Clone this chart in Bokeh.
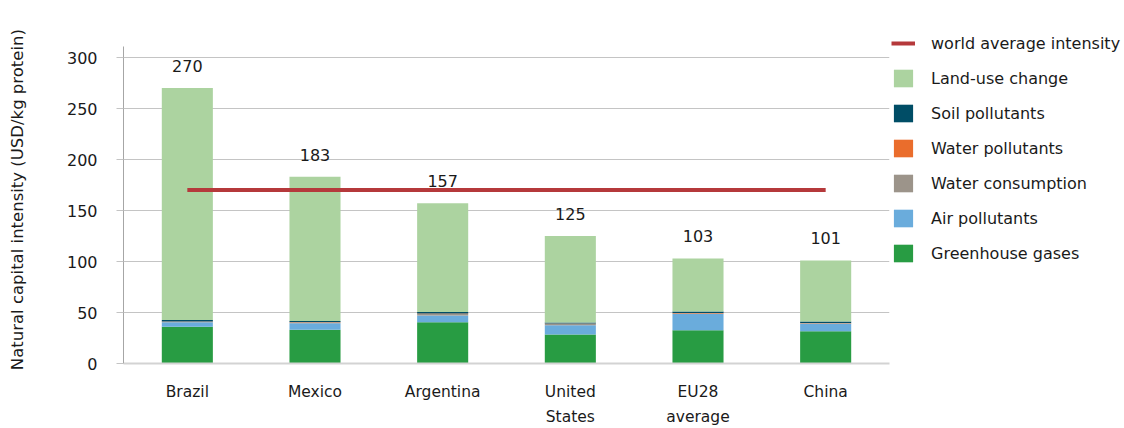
from bokeh.plotting import figure
from bokeh.models import ColumnDataSource, Legend, LegendItem, FixedTicker
from bokeh.core.properties import value
from bokeh.embed import file_html
from bokeh.resources import INLINE

categories = ["Brazil", "Mexico", "Argentina", "United\nStates", "EU28\naverage", "China"]
greenhouse_gases = [36.0, 33.0, 40.5, 28.5, 32.5, 31.5]
air_pollutants = [4.5, 6.5, 6.5, 9.0, 16.0, 7.5]
water_consumption = [0.5, 1.0, 1.5, 1.5, 0.5, 0.5]
water_pollutants = [0.2, 0.2, 0.5, 0.3, 0.5, 0.3]
soil_pollutants = [1.5, 1.0, 1.5, 1.0, 1.5, 1.5]
land_use_change = [227.3, 141.3, 106.5, 84.7, 52.0, 59.7]
totals = [270, 183, 157, 125, 103, 101]
world_average = 170
y_ticks = [0, 50, 100, 150, 200, 250, 300]

stack_keys = ["ghg", "air", "wcons", "wpoll", "soil", "land"]
stack_names = ["Greenhouse gases", "Air pollutants", "Water consumption",
               "Water pollutants", "Soil pollutants", "Land-use change"]
colors = ["#289c43", "#6aacdc", "#9c948a", "#ea6d2c", "#004d66", "#acd3a0"]

source = ColumnDataSource(dict(
    cat=categories, ghg=greenhouse_gases, air=air_pollutants,
    wcons=water_consumption, wpoll=water_pollutants,
    soil=soil_pollutants, land=land_use_change,
    total=totals, label=[str(t) for t in totals],
))

FONT = "DejaVu Sans"

p = figure(x_range=categories, y_range=(0, 326.5),
           frame_width=766, frame_height=333,
           min_border_left=123, min_border_top=30, min_border_bottom=65,
           min_border_right=0,
           output_backend="svg", toolbar_location=None)
p.outline_line_color = None

bars = p.vbar_stack(stack_keys, x="cat", width=0.4, color=colors,
                    line_color=None, source=source)

avg = p.line(x=[categories[0], categories[-1]], y=[world_average, world_average],
             line_color="#b5393b", line_width=4)

p.text(x="cat", y="total", text="label", source=source,
       text_font=value(FONT), text_font_size="16px", text_color="#1a1a1a",
       text_align="center", text_baseline="bottom", y_offset=-16)

# y axis
p.yaxis.ticker = FixedTicker(ticks=y_ticks)
p.yaxis.bounds = (0, 311)
p.yaxis.axis_line_color = "#a6a6a6"
p.yaxis.major_tick_line_color = "#c4c4c4"
p.yaxis.major_tick_out = 7
p.yaxis.major_tick_in = 0
p.yaxis.minor_tick_line_color = None
p.yaxis.major_label_standoff = 19
p.yaxis.major_label_text_font = FONT
p.yaxis.major_label_text_font_size = "16px"
p.yaxis.major_label_text_color = "#1a1a1a"
p.yaxis.axis_label = "Natural capital intensity  (USD/kg protein)"
p.yaxis.axis_label_text_font = FONT
p.yaxis.axis_label_text_font_size = "16.5px"
p.yaxis.axis_label_text_font_style = "normal"
p.yaxis.axis_label_text_color = "#1a1a1a"
p.yaxis.axis_label_standoff = 37

# x axis
p.xaxis.axis_line_color = "#d3d3d3"
p.xaxis.axis_line_width = 2
p.xaxis.major_tick_line_color = None
p.xaxis.major_tick_out = 0
p.xaxis.major_tick_in = 0
p.xaxis.major_label_standoff = 19
p.xaxis.major_label_text_font = FONT
p.xaxis.major_label_text_font_size = "15.5px"
p.xaxis.major_label_text_color = "#1a1a1a"
p.xaxis.major_label_text_line_height = 1.4

p.xgrid.grid_line_color = None
p.ygrid.grid_line_color = "#c4c4c4"
p.ygrid.ticker = FixedTicker(ticks=y_ticks[1:])

items = [LegendItem(label="world average intensity", renderers=[avg])]
for i in reversed(range(len(bars))):
    items.append(LegendItem(label=stack_names[i], renderers=[bars[i]]))

legend = Legend(items=items, location="top_left", margin=2, padding=0,
                glyph_width=24, glyph_height=22, spacing=13, label_standoff=16,
                label_text_font=FONT, label_text_font_size="16px",
                label_text_color="#1a1a1a", border_line_color=None,
                background_fill_alpha=0)
p.add_layout(legend, "right")

open("out.html", "w").write(file_html(p, INLINE))
